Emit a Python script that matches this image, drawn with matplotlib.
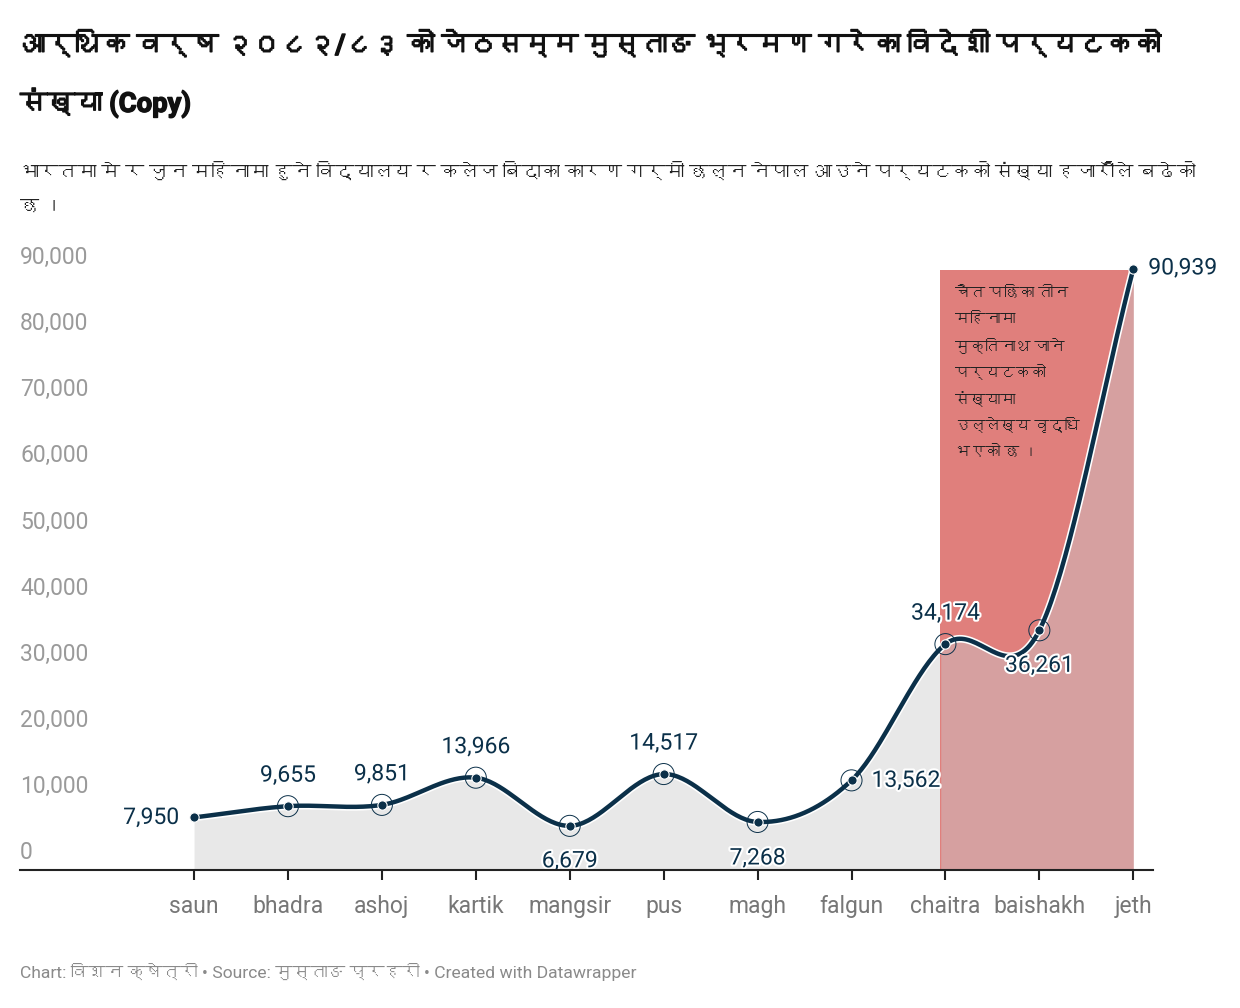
import numpy as np
import matplotlib
matplotlib.use("Agg")
import matplotlib.pyplot as plt
from matplotlib import font_manager
from matplotlib.ft2font import FT2Font
import matplotlib.patheffects as pe

# ---------------- data ----------------
months = ["saun", "bhadra", "ashoj", "kartik", "mangsir", "pus", "magh",
          "falgun", "chaitra", "baishakh", "jeth"]
visitors = [7950, 9655, 9851, 13966, 6679, 14517, 7268, 13562, 34174, 36261, 90939]
value_labels = ["7,950", "9,655", "9,851", "13,966", "6,679", "14,517", "7,268",
                "13,562", "34,174", "36,261", "90,939"]
y_ticks = [0, 10000, 20000, 30000, 40000, 50000, 60000, 70000, 80000, 90000]
y_tick_labels = ["0", "10,000", "20,000", "30,000", "40,000", "50,000",
                 "60,000", "70,000", "80,000", "90,000"]
highlight_start = "chaitra"
highlight_end = "jeth"

title = "आर्थिक वर्ष २०८२/८३ को जेठसम्म मुस्ताङ भ्रमण गरेका विदेशी पर्यटकको\nसंख्या (Copy)"
subtitle = ("भारतमा मे र जुन महिनामा हुने विद्यालय र कलेज बिदाका कारण गर्मी छल्न नेपाल आउने पर्यटकको संख्या हजारौँले बढेको\nछ ।")
note = "चैत पछिका तीन\nमहिनामा\nमुक्तिनाथ जाने\nपर्यटकको\nसंख्यामा\nउल्लेख्य वृद्धि\nभएको छ ।"
footer = "Chart: विशन क्षेत्री • Source: मुस्ताङ प्रहरी • Created with Datawrapper"

# ---------------- fonts ----------------
deva = []
for f in font_manager.fontManager.ttflist:
    try:
        cm = FT2Font(f.fname).get_charmap()
        if 0x0915 in cm and f.name not in deva:
            deva.append(f.name)
    except Exception:
        pass
FAM = ["Roboto"] + deva[:2] + ["DejaVu Sans"]
plt.rcParams["font.family"] = FAM

NAVY = "#0b3049"
GREY_TXT = "#9a9a9a"

fig = plt.figure(figsize=(12.4, 10.08), dpi=100)
W, H = 1240, 1008
YTOP = 92290
ax = fig.add_axes([20 / W, 1 - 870 / H, (1153 - 20) / W, (870 - 260) / H])
renderer = fig.canvas.get_renderer()

x = np.arange(len(months))
y = np.array(visitors, dtype=float)

# Catmull-Rom smooth curve through the data points
def catmull(xs, ys, n=40):
    px = np.concatenate([[2 * xs[0] - xs[1]], xs, [2 * xs[-1] - xs[-2]]])
    py = np.concatenate([[2 * ys[0] - ys[1]], ys, [2 * ys[-1] - ys[-2]]])
    outx, outy = [], []
    for i in range(1, len(px) - 2):
        t = np.linspace(0, 1, n, endpoint=False)
        m0 = (py[i + 1] - py[i - 1]) / 2
        m1 = (py[i + 2] - py[i]) / 2
        h00 = 2 * t**3 - 3 * t**2 + 1
        h10 = t**3 - 2 * t**2 + t
        h01 = -2 * t**3 + 3 * t**2
        h11 = t**3 - t**2
        outy.append(h00 * py[i] + h10 * m0 + h01 * py[i + 1] + h11 * m1)
        outx.append(px[i] + t * (px[i + 1] - px[i]))
    outx.append([xs[-1]]); outy.append([ys[-1]])
    return np.concatenate(outx), np.concatenate(outy)

cx, cy = catmull(x.astype(float), y)

xs0 = months.index(highlight_start) - 0.055
xs1 = months.index(highlight_end)

ax.fill_between(cx, 0, cy, color="#e8e8e8", lw=0, zorder=1)
ax.axvspan(xs0, xs1, ymin=0, ymax=600 / 610, color="#e07f7c", lw=0, zorder=2)
m = cx >= xs0
ax.fill_between(cx[m], 0, cy[m], color="#d6a0a0", lw=0, zorder=3)

ax.plot(cx, cy, color=NAVY, lw=3.2, zorder=5, solid_capstyle="round",
        path_effects=[pe.Stroke(linewidth=5.5, foreground="white"), pe.Normal()])

ax.scatter(x, y, s=45, color=NAVY, zorder=6, edgecolor="white", linewidth=0.8)
ax.scatter(x[1:-1], y[1:-1], s=230, facecolor="none", edgecolor=NAVY,
           linewidth=0.7, zorder=6)

# value labels
offsets = {0: (-15, 0, "right"), 1: (0, 31, "center"), 2: (0, 31, "center"),
           3: (0, 31, "center"), 4: (0, -35, "center"), 5: (0, 31, "center"),
           6: (0, -36, "center"), 7: (20, 0, "left"), 8: (0, 31, "center"),
           9: (0, -35, "center"), 10: (15, 1, "left")}
for i, lab in enumerate(value_labels):
    dx, dy, ha = offsets[i]
    ax.annotate(lab, (x[i], y[i]), xytext=(dx, dy), textcoords="offset pixels",
                ha=ha, va="center", fontsize=16.5, color=NAVY, zorder=8,
                path_effects=[pe.withStroke(linewidth=3, foreground="white")])

ax.set_xlim(-1.853, 10.21)
ax.set_ylim(0, YTOP)
for s in ["top", "right", "left"]:
    ax.spines[s].set_visible(False)
ax.spines["bottom"].set_color("#222222")
ax.spines["bottom"].set_linewidth(1.5)
ax.spines["bottom"].set_zorder(9)
ax.set_yticks([])
ax.set_xticks(x)
ax.set_xticklabels(months, fontsize=16.5, color="#777777")
ax.tick_params(axis="x", length=7, width=1.5, color="#222222", pad=11)

for v, lab in zip(y_ticks, y_tick_labels):
    ax.annotate(lab, (0, v), xycoords=("axes fraction", "data"), xytext=(0, 6),
                textcoords="offset pixels", ha="left", va="bottom",
                fontsize=16.5, color=GREY_TXT)


def text_block(s, x_px, y_px_list, fs, max_w, **kw):
    """Draw each line of s at its own pixel row; shrink to fit max_w."""
    objs = [fig.text(x_px / W, 1 - yy / H, line, fontsize=fs, ha="left",
                     va="center", **kw)
            for line, yy in zip(s.split("\n"), y_px_list)]
    for _ in range(3):
        w = max(o.get_window_extent(renderer).width for o in objs)
        if w > max_w:
            for o in objs:
                o.set_fontsize(o.get_fontsize() * max_w / w)
    return objs


text_block(title, 20, [46, 103], 30, 1140, color="#111111", fontweight="bold",
           path_effects=[pe.withStroke(linewidth=1.0, foreground="#111111")])
text_block(subtitle, 20, [172, 207], 17, 1182, color="#222222")
text_block(note, 955, [294 + 26.5 * k for k in range(7)], 15, 125,
           color="#222222", zorder=7)
text_block(footer, 20, [972], 15.5, 616, color="#8a8a8a")

fig.savefig("out.png", dpi=100, facecolor="white")
